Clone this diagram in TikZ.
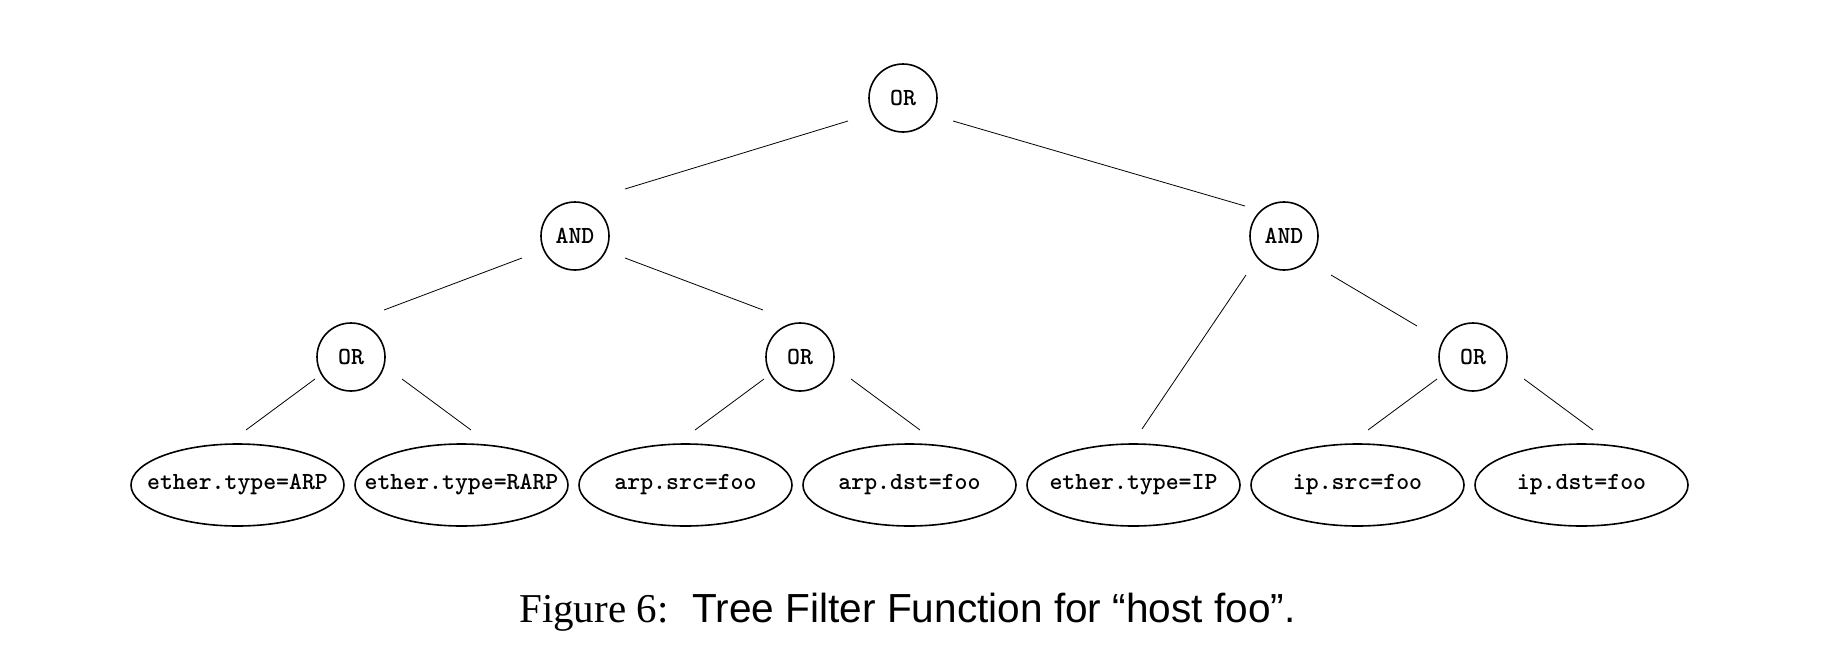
\documentclass[tikz,border=0pt]{standalone}
\usepackage{fontspec}
\usetikzlibrary{shapes.geometric,calc}
\newfontfamily\capserif{Liberation Serif}
\newfontfamily\capsans{Liberation Sans}
\tikzset{
  opnode/.style={draw, circle, line width=1.6pt, minimum size=68pt, inner sep=0pt,
    font=\ttfamily\bfseries\fontsize{24.6}{28}\selectfont},
  leaf/.style={draw, ellipse, line width=1.6pt, minimum width=213pt, minimum height=82pt, inner sep=0pt,
    font=\ttfamily\bfseries\fontsize{24.6}{28}\selectfont},
  edge/.style={line width=0.8pt}
}
\newcommand{\lf}[1]{\makebox[0pt]{\raisebox{-2pt}{#1}}}
\begin{document}
\begin{tikzpicture}[x=1pt,y=-1pt]
\useasboundingbox (0,0) rectangle (1832,672);
% operator nodes
\node[opnode] (root) at (903,98) {OR};
\node[opnode] (andl) at (575,236) {AND};
\node[opnode] (andr) at (1284,236) {AND};
\node[opnode] (orl) at (351,357) {OR};
\node[opnode] (orm) at (800,357) {OR};
\node[opnode] (orr) at (1473,357) {OR};
% leaves
\node[leaf] (l1) at (237.5,485) {\lf{ether.type=ARP}};
\node[leaf] (l2) at (461.5,485) {\lf{ether.type=RARP}};
\node[leaf] (l3) at (685.5,485) {\lf{arp.src=foo}};
\node[leaf] (l4) at (909.5,485) {\lf{arp.dst=foo}};
\node[leaf] (l5) at (1133.5,485) {\lf{ether.type=IP}};
\node[leaf] (l6) at (1357.5,485) {\lf{ip.src=foo}};
\node[leaf] (l7) at (1581.5,485) {\lf{ip.dst=foo}};
% connectors
\draw[edge] ($(root)+(-55,23)$) -- ($(andl)+(50,-47)$);
\draw[edge] ($(root)+(50,23)$) -- ($(andr)+(-39,-30)$);
\draw[edge] ($(andl)+(-53,22)$) -- ($(orl)+(33,-47)$);
\draw[edge] ($(andl)+(50,22)$) -- ($(orm)+(-37,-47)$);
\draw[edge] ($(andr)+(-38,39)$) -- ($(l5)+(8.5,-56)$);
\draw[edge] ($(andr)+(47,39)$) -- ($(orr)+(-56,-31)$);
\draw[edge] ($(orl)+(-36,22)$) -- ($(l1)+(8.5,-55)$);
\draw[edge] ($(orl)+(51,22)$) -- ($(l2)+(9.5,-55)$);
\draw[edge] ($(orm)+(-36,22)$) -- ($(l3)+(9.5,-55)$);
\draw[edge] ($(orm)+(51,22)$) -- ($(l4)+(10.5,-55)$);
\draw[edge] ($(orr)+(-36,22)$) -- ($(l6)+(10.5,-55)$);
\draw[edge] ($(orr)+(51,22)$) -- ($(l7)+(11.5,-55)$);
% caption
\node[anchor=base west, inner sep=0pt] (cap) at (519,622)
  {{\capserif\fontsize{41}{48}\selectfont Figure 6:}\hspace{24pt}{\capsans\fontsize{40.6}{48}\selectfont Tree Filter Function for “host foo”.}};
\end{tikzpicture}
\end{document}
